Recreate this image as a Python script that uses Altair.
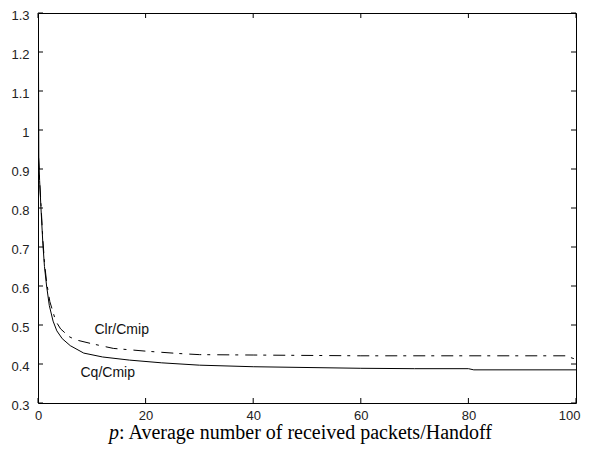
import altair as alt
import pandas as pd

# Cq/Cmip (solid)
cq_p = [0.1, 0.15, 0.3, 0.55, 0.9, 1.2, 1.6, 2.1, 2.8, 3.5, 4.5, 6, 8.5, 12, 17, 23, 30, 40, 50, 60, 70, 80, 81, 100]
cq_v = [1.15, 0.93, 0.87, 0.80, 0.71, 0.65, 0.60, 0.55, 0.51, 0.485, 0.465, 0.447, 0.428, 0.418, 0.410, 0.403, 0.397, 0.393, 0.391, 0.389, 0.388, 0.388, 0.385, 0.385]

# Clr/Cmip (dash-dot)
clr_p = [0.1, 0.3, 0.55, 0.9, 1.2, 1.6, 2.2, 3.3, 4.2, 5.8, 7, 10, 14, 20, 26, 30, 40, 50, 60, 80, 98, 100]
clr_v = [0.93, 0.87, 0.81, 0.72, 0.66, 0.61, 0.56, 0.51, 0.49, 0.47, 0.462, 0.452, 0.440, 0.433, 0.427, 0.424, 0.423, 0.422, 0.421, 0.421, 0.421, 0.412]

label_text = ["Clr/Cmip", "Cq/Cmip"]
label_p = [10.5, 7.9]
label_v = [0.487, 0.377]

x_ticks = [0, 20, 40, 60, 80, 100]
y_ticks = [0.3, 0.4, 0.5, 0.6, 0.7, 0.8, 0.9, 1.0, 1.1, 1.2, 1.3]

W, H = 538, 390
TL = 5  # inward tick length (px)

cq_df = pd.DataFrame({"p": cq_p, "v": cq_v})
clr_df = pd.DataFrame({"p": clr_p, "v": clr_v})
lab_df = pd.DataFrame({"t": label_text, "p": label_p, "v": label_v})
xt_df = pd.DataFrame({"p": x_ticks})
yt_df = pd.DataFrame({"v": y_ticks})

xscale = alt.Scale(domain=[0, 100], nice=False, zero=False)
yscale = alt.Scale(domain=[0.3, 1.3], nice=False, zero=False)

xaxis = alt.Axis(values=x_ticks, title=None, grid=False, ticks=False, domain=False,
                 labelFont="Liberation Sans", labelFontSize=13, labelColor="#222",
                 labelPadding=6, labelFlush=False, labelOverlap=False,
                 labelAlign=alt.condition("datum.value == 100", alt.value("right"), alt.value("center")),
                 labelOffset=alt.condition("datum.value == 100", alt.value(4), alt.value(0)))
yaxis = alt.Axis(values=y_ticks, title=None, grid=False, ticks=False, domain=False,
                 labelFont="Liberation Sans", labelFontSize=13, labelColor="#222",
                 labelPadding=9, labelOffset=2, labelFlush=False, labelOverlap=False,
                 labelExpr="datum.value == 1 ? '1' : format(datum.value, '.1f')")

X = alt.X("p:Q", scale=xscale, axis=xaxis)
Y = alt.Y("v:Q", scale=yscale, axis=yaxis)

solid = alt.Chart(cq_df).mark_line(color="black", strokeWidth=1, clip=True).encode(x=X, y=Y)

dashdot = alt.Chart(clr_df).mark_line(color="black", strokeWidth=1, strokeDash=[12, 6, 3, 7],
                                      clip=True).encode(x=X, y=Y)

labels = alt.Chart(lab_df).mark_text(align="left", baseline="middle", font="Liberation Sans",
                                     fontSize=14, color="#111").encode(x=X, y=Y, text="t:N")

bt = alt.Chart(xt_df).mark_rule(color="black", strokeWidth=1).encode(
    x=X, y=alt.value(H), y2=alt.value(H - TL))
tt = alt.Chart(xt_df).mark_rule(color="black", strokeWidth=1).encode(
    x=X, y=alt.value(0), y2=alt.value(TL))
lt = alt.Chart(yt_df).mark_rule(color="black", strokeWidth=1).encode(
    y=Y, x=alt.value(0), x2=alt.value(TL))
rt = alt.Chart(yt_df).mark_rule(color="black", strokeWidth=1).encode(
    y=Y, x=alt.value(W), x2=alt.value(W - TL))

title_p = alt.Chart(pd.DataFrame({"t": ["p"]})).mark_text(
    align="left", baseline="alphabetic", font="Liberation Serif", fontSize=20,
    fontStyle="italic", color="black").encode(
    x=alt.value(71), y=alt.value(426), text="t:N")
title_rest = alt.Chart(pd.DataFrame({"t": [": Average number of received packets/Handoff"]})).mark_text(
    align="left", baseline="alphabetic", font="Liberation Serif", fontSize=20,
    color="black").encode(
    x=alt.value(81), y=alt.value(426), text="t:N")

chart = alt.layer(solid, dashdot, labels, bt, tt, lt, rt, title_p, title_rest).properties(
    width=W, height=H,
    autosize=alt.AutoSizeParams(type="none"),
    padding={"left": 30, "top": 5, "right": 5, "bottom": 50},
    background="white",
).configure_view(stroke="black", strokeWidth=1).configure_axis(labelOverlap=False)

chart.save("out.html", embed_options={"renderer": "svg", "actions": False})
